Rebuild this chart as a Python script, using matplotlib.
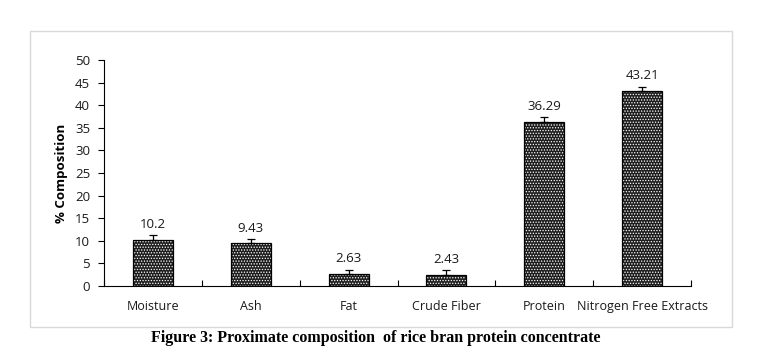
import matplotlib
matplotlib.use("Agg")
import matplotlib.pyplot as plt
from matplotlib.patches import Rectangle
import numpy as np

categories = ["Moisture", "Ash", "Fat", "Crude Fiber", "Protein", "Nitrogen Free Extracts"]
values = [10.2, 9.43, 2.63, 2.43, 36.29, 43.21]
errors = [1.0, 0.9, 1.0, 1.1, 1.0, 0.9]
value_labels = ["10.2", "9.43", "2.63", "2.43", "36.29", "43.21"]
yticks = [0, 5, 10, 15, 20, 25, 30, 35, 40, 45, 50]

plt.rcParams['hatch.linewidth'] = 0.6
fig = plt.figure(figsize=(7.62, 3.59), dpi=100)
fig.patches.append(Rectangle((30/762, 1-327/359), 702/762, 296/359, transform=fig.transFigure,
                             fill=False, edgecolor="#d9d9d9", linewidth=1.0))
ax = fig.add_axes([104/762, 1-286/359, 587/762, 226/359])

x = np.arange(len(categories))
ax.bar(x, values, width=0.41, color="#1e1e1e", edgecolor="white", hatch="......", linewidth=0, zorder=2)
ax.bar(x, values, width=0.41, fill=False, edgecolor="black", linewidth=0.9, zorder=2.5)
ax.errorbar(x, values, yerr=[np.zeros(len(errors)), errors], fmt="none", ecolor="black",
            elinewidth=0.9, capsize=3, capthick=0.9, zorder=3)
for xi, v, e, lab in zip(x, values, errors, value_labels):
    ax.annotate(lab, (xi, v + e), xytext=(0, 3), textcoords="offset points", ha="center", va="bottom",
                fontsize=9.5, family="Open Sans", color="#1a1a1a")

ax.set_xlim(-0.5, 5.5)
ax.set_ylim(0, 50)
ax.set_yticks(yticks)
ax.set_xticks(x)
ax.set_xticklabels(categories, family="Open Sans", fontsize=9, color="#1a1a1a")
ax.set_xticks(np.arange(-0.5, 6.0, 1.0), minor=True)
ax.tick_params(axis="x", which="major", length=0, pad=10)
ax.tick_params(axis="x", which="minor", direction="in", length=4, width=0.8)
ax.tick_params(axis="y", direction="out", length=4, width=0.8, labelsize=9.5, pad=6, labelcolor="#1a1a1a")
for lab in ax.get_yticklabels():
    lab.set_family("Open Sans")
ax.spines["top"].set_visible(False)
ax.spines["right"].set_visible(False)
ax.spines["left"].set_linewidth(0.8)
ax.spines["bottom"].set_linewidth(0.8)
ax.set_ylabel("% Composition", fontsize=9.5, fontweight="bold", family="Open Sans", labelpad=5)

fig.text(376/762, 1-338/359, "Figure 3: Proximate composition  of rice bran protein concentrate",
         ha="center", va="center", fontsize=11.5, fontweight="bold", family="Liberation Serif")

fig.savefig("out.png", dpi=100)
